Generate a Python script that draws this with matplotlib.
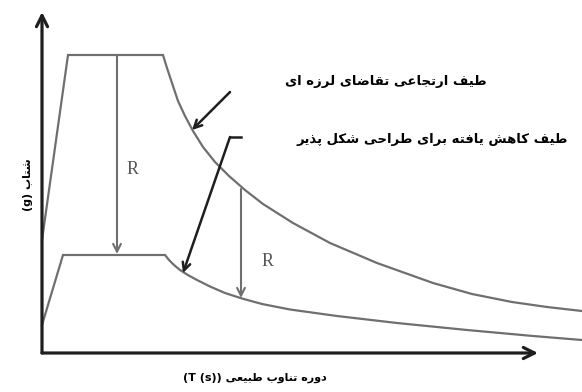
import matplotlib
matplotlib.use("Agg")
import matplotlib.pyplot as plt

# elastic demand spectrum (T in s, Sa in g)
elastic_T = [0.0, 0.26, 1.21, 1.25, 1.30, 1.36, 1.43, 1.51, 1.61, 1.73, 1.87, 2.03, 2.21,
             2.51, 2.88, 3.35, 3.91, 4.30, 4.70, 5.05, 5.40]
elastic_Sa = [1.13, 2.98, 2.98, 2.85, 2.70, 2.52, 2.37, 2.22, 2.06, 1.91, 1.77, 1.63, 1.49,
              1.30, 1.10, 0.90, 0.70, 0.59, 0.51, 0.46, 0.42]

# reduced (ductile design) spectrum
reduced_T = [0.0, 0.21, 1.23, 1.27, 1.32, 1.38, 1.45, 1.55, 1.68, 1.83, 2.00, 2.20, 2.48,
             2.95, 3.55, 4.25, 4.91, 5.40]
reduced_Sa = [0.28, 0.98, 0.98, 0.93, 0.88, 0.83, 0.785, 0.73, 0.665, 0.60, 0.545, 0.49, 0.435,
              0.37, 0.30, 0.23, 0.17, 0.13]

# R arrows: (T, top, bottom)
r_arrows = [(0.75, 2.98, 0.99), (1.99, 1.64, 0.55)]
r_labels = [(0.91, 1.83), (2.26, 0.91)]

label_elastic = "طیف ارتجاعی تقاضای لرزه ای"
label_reduced = "طیف کاهش یافته برای طراحی شکل پذیر"
xlabel_fa = "دوره تناوب طبیعی"
ylabel_fa = "شتاب"

# presentation forms: isolated, final, initial, medial
FORMS = {
    'ا': (0xFE8D, 0xFE8E, None, None),
    'ب': (0xFE8F, 0xFE90, 0xFE91, 0xFE92),
    'پ': (0xFB56, 0xFB57, 0xFB58, 0xFB59),
    'ت': (0xFE95, 0xFE96, 0xFE97, 0xFE98),
    'ج': (0xFE9D, 0xFE9E, 0xFE9F, 0xFEA0),
    'ح': (0xFEA1, 0xFEA2, 0xFEA3, 0xFEA4),
    'د': (0xFEA9, 0xFEAA, None, None),
    'ذ': (0xFEAB, 0xFEAC, None, None),
    'ر': (0xFEAD, 0xFEAE, None, None),
    'ز': (0xFEAF, 0xFEB0, None, None),
    'ش': (0xFEB5, 0xFEB6, 0xFEB7, 0xFEB8),
    'ض': (0xFEBD, 0xFEBE, 0xFEBF, 0xFEC0),
    'ط': (0xFEC1, 0xFEC2, 0xFEC3, 0xFEC4),
    'ع': (0xFEC9, 0xFECA, 0xFECB, 0xFECC),
    'ف': (0xFED1, 0xFED2, 0xFED3, 0xFED4),
    'ق': (0xFED5, 0xFED6, 0xFED7, 0xFED8),
    'ک': (0xFB8E, 0xFB8F, 0xFEDB, 0xFEDC),
    'ل': (0xFEDD, 0xFEDE, 0xFEDF, 0xFEE0),
    'ن': (0xFEE5, 0xFEE6, 0xFEE7, 0xFEE8),
    'ه': (0xFEE9, 0xFEEA, 0xFEEB, 0xFEEC),
    'و': (0xFEED, 0xFEEE, None, None),
    'ی': (0xFEEF, 0xFEF0, 0xFEF3, 0xFEF4),
}


def fa(s):
    # shape letters and reverse for left-to-right drawing
    out = []
    for i, ch in enumerate(s):
        if ch not in FORMS:
            out.append(ch)
            continue
        prev = s[i - 1] if i > 0 else ''
        nxt = s[i + 1] if i + 1 < len(s) else ''
        iso, fin, ini, med = FORMS[ch]
        jp = prev in FORMS and FORMS[prev][2] is not None
        jn = ini is not None and nxt in FORMS
        if jp and jn:
            c = med
        elif jp:
            c = fin
        elif jn:
            c = ini
        else:
            c = iso
        out.append(chr(c))
    return ''.join(out)[::-1]


fig = plt.figure(figsize=(5.82, 3.92), dpi=100)
ax = fig.add_axes([42 / 582, 39 / 392, 540 / 582, 341 / 392])
ax.set_xlim(0, 5.40)
ax.set_ylim(0, 3.41)
ax.axis('off')

gray = '#6f6f6f'
dark = '#1e1e1e'

ax.plot(elastic_T, elastic_Sa, color=gray, lw=1.6, clip_on=False, solid_joinstyle='miter')
ax.plot(reduced_T, reduced_Sa, color=gray, lw=1.6, clip_on=False, solid_joinstyle='miter')

# axes with arrow heads
ax.annotate('', xy=(0, 3.41), xytext=(0, 0),
            arrowprops=dict(arrowstyle='->', lw=2.3, color=dark, mutation_scale=20,
                            shrinkA=0, shrinkB=0), annotation_clip=False)
ax.annotate('', xy=(4.96, 0), xytext=(0, 0),
            arrowprops=dict(arrowstyle='->', lw=2.3, color=dark, mutation_scale=20,
                            shrinkA=0, shrinkB=0), annotation_clip=False)

for (t, top, bot), (lx, ly) in zip(r_arrows, r_labels):
    ax.annotate('', xy=(t, bot), xytext=(t, top),
                arrowprops=dict(arrowstyle='->', lw=1.5, color=gray, mutation_scale=14,
                                shrinkA=0, shrinkB=0))
    ax.text(lx, ly, 'R', color='#555555', fontsize=13, family='Liberation Serif',
            ha='center', va='center')

# pointer arrows
ax.annotate('', xy=(1.50, 2.23), xytext=(1.88, 2.61),
            arrowprops=dict(arrowstyle='->', lw=1.8, color=dark, mutation_scale=14,
                            shrinkA=0, shrinkB=0))
ax.plot([1.99, 1.88], [2.16, 2.16], color=dark, lw=1.8)
ax.annotate('', xy=(1.41, 0.80), xytext=(1.88, 2.16),
            arrowprops=dict(arrowstyle='->', lw=1.8, color=dark, mutation_scale=14,
                            shrinkA=0, shrinkB=0))

ax.text(3.44, 2.71, fa(label_elastic), fontsize=9.5, fontweight='bold',
        family=['DejaVu Sans'], ha='center', va='center')
ax.text(3.90, 2.13, fa(label_reduced), fontsize=9.5, fontweight='bold',
        family=['DejaVu Sans'], ha='center', va='center')

ax.text(2.13, -0.25, '(T (s)) ' + fa(xlabel_fa), fontsize=8, fontweight='bold',
        family=['DejaVu Sans'], ha='center', va='center', clip_on=False)
ax.text(-0.14, 1.68, '(g) ' + fa(ylabel_fa), fontsize=8, fontweight='bold', rotation=90,
        family=['DejaVu Sans'], ha='center', va='center', clip_on=False)

fig.savefig('out.png', dpi=100)
